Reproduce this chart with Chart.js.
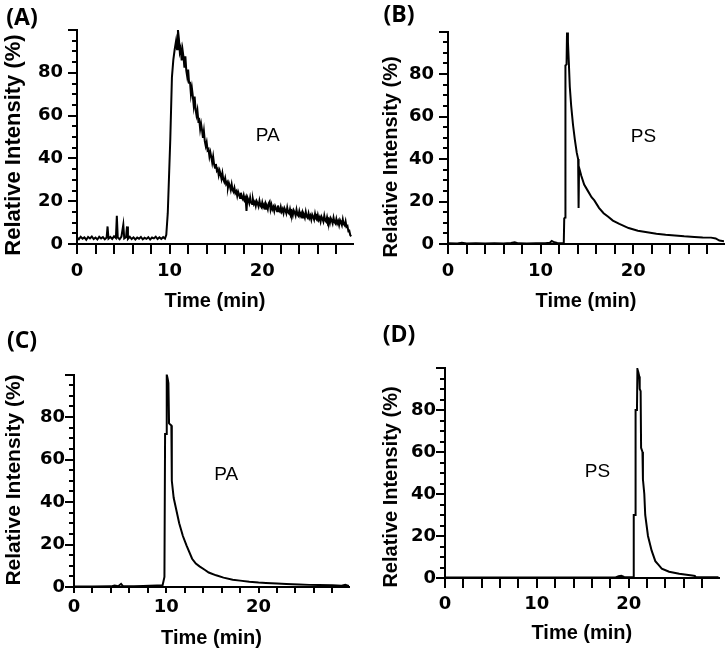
<!DOCTYPE html>
<html>
<head>
<meta charset="utf-8">
<script src="https://cdn.jsdelivr.net/npm/chart.js@4.4.1/dist/chart.umd.min.js"></script>
<style>
  body { margin: 0; background: #fff; }
  #wrap { position: relative; width: 725px; height: 651px; }
  #wrap canvas { position: absolute; }
</style>
</head>
<body>
<div id="wrap"></div>
<script>
// tick values / labels
const xTicks = [0, 2, 4, 6, 8, 10, 12, 14, 16, 18, 20, 22, 24, 26, 28];
const xLabels = [0, 10, 20];
const yMajor = [0, 20, 40, 60, 80, 100];
const yMinor = [5, 10, 15, 25, 30, 35, 45, 50, 55, 65, 70, 75, 85, 90, 95];
const yLabels = [0, 20, 40, 60, 80];
const panelLetters = ["(A)", "(B)", "(C)", "(D)"];
const compounds = ["PA", "PS", "PA", "PS"];

// traces: [time (min), relative intensity (%)]
const traceA = [
  [0,3],[0.2,2.2],[0.4,3.4],[0.6,2.5],[0.8,3.1],[1.0,2.0],[1.2,3.3],[1.4,2.6],[1.6,3.5],[1.8,2.3],
  [2.0,3.0],[2.2,2.1],[2.4,3.4],[2.6,2.6],[2.8,3.2],[3.0,2.2],[3.2,3.0],[3.3,8.2],[3.4,2.5],[3.6,3.3],
  [3.8,2.4],[4.0,3.6],[4.2,2.8],[4.3,13.2],[4.4,3.0],[4.6,2.2],[4.8,3.5],[5.0,9.0],[5.1,2.6],[5.3,3.2],
  [5.4,8.2],[5.5,2.4],[5.7,3.4],[5.9,2.3],[6.1,3.1],[6.3,2.1],[6.5,3.0],[6.7,2.5],[6.9,3.3],[7.1,2.2],
  [7.3,2.9],[7.5,2.4],[7.7,3.2],[7.9,2.1],[8.1,3.0],[8.3,2.6],[8.5,3.4],[8.7,2.3],[8.9,3.1],[9.1,2.4],
  [9.3,3.2],[9.5,2.5],[9.64,4.3],[9.8,14.4],[10.07,48.6],[10.25,78],[10.4,86],[10.55,91],[10.7,95],[10.8,91],
  [10.9,100],[11.0,96],[11.1,89.7],[11.2,91.5],[11.3,85.8],[11.4,90.6],[11.5,87.3],[11.6,82.4],[11.7,87.7],[11.8,81],
  [11.9,78.2],[12.0,81.5],[12.1,75.3],[12.2,75.8],[12.3,70],[12.4,73],[12.5,69.3],[12.6,64.8],[12.7,68.9],[12.8,62.9],
  [12.9,60.2],[13.0,62.5],[13.1,57.6],[13.2,58.1],[13.3,53.6],[13.4,56.1],[13.5,53.2],[13.6,49.6],[13.7,52.8],[13.8,48],
  [13.9,45.8],[14.0,47.6],[14.1,43.8],[14.2,44.3],[14.3,40.8],[14.4,42.9],[14.5,40.7],[14.6,38],[14.7,40.8],[14.8,37.2],
  [14.9,35.6],[15.0,37.4],[15.1,34.3],[15.2,35],[15.3,32.2],[15.4,34.3],[15.5,32.6],[15.6,30.5],[15.7,33.1],[15.8,30.1],
  [15.9,29],[16.0,30.8],[16.1,28.1],[16.2,28.9],[16.3,26.4],[16.4,28.5],[16.5,27.1],[16.6,25.3],[16.7,27.9],[16.8,25.3],
  [16.9,24.4],[17.0,26.2],[17.1,23.8],[17.2,24.6],[17.3,22.4],[17.4,24.4],[17.5,23.1],[17.6,21.5],[17.7,24],[17.8,21.7],
  [17.9,20.9],[18.0,22.8],[18.1,20.6],[18.2,21.6],[18.3,15.5],[18.4,21.7],[18.5,20.6],[18.6,19.1],[18.7,21.7],[18.8,19.4],
  [18.9,18.7],[19.0,20.8],[19.1,18.7],[19.2,19.7],[19.3,17.8],[19.4,20],[19.5,19],[19.6,17.6],[19.7,20.2],[19.8,18],
  [19.9,17.3],[20.0,19.4],[20.1,17.3],[20.2,18.4],[20.3,16.5],[20.4,18.8],[20.5,17.8],[20.6,16.3],[20.7,19],[20.8,19.8],
  [20.9,16.2],[21.0,18.3],[21.1,16.2],[21.2,17.3],[21.3,15.4],[21.4,17.7],[21.5,16.7],[21.6,15.3],[21.7,18],[21.8,15.8],
  [21.9,15.2],[22.0,17.3],[22.1,15.2],[22.2,16.3],[22.3,14.4],[22.4,16.7],[22.5,15.7],[22.6,14.3],[22.7,17],[22.8,14.8],
  [22.9,14.2],[23.0,16.3],[23.1,14.2],[23.2,15.3],[23.3,13.4],[23.4,15.7],[23.5,14.7],[23.6,13.3],[23.7,16],[23.8,13.8],
  [23.9,13.2],[24.0,15.3],[24.1,13.2],[24.2,14.3],[24.3,12.4],[24.4,14.7],[24.5,13.7],[24.6,12.3],[24.7,15],[24.8,12.8],
  [24.9,12.2],[25.0,14.3],[25.1,12.2],[25.2,13.3],[25.3,11.4],[25.4,13.7],[25.5,12.7],[25.6,11.4],[25.7,14.1],[25.8,11.9],
  [25.9,11.3],[26.0,13.4],[26.1,11.3],[26.2,12.4],[26.3,10.5],[26.4,12.8],[26.5,11.8],[26.6,10.5],[26.7,13.2],[26.8,11],
  [26.9,10.4],[27.0,12.5],[27.1,10.4],[27.2,11.5],[27.3,9.7],[27.4,12],[27.5,11],[27.6,9.6],[27.7,12.3],[27.8,10.2],
  [27.9,9.6],[28.0,11.7],[28.1,9.6],[28.2,10.7],[28.3,8.8],[28.4,11.1],[28.5,10.1],[28.6,8.8],[28.7,11.5],[28.8,9.3],
  [28.9,8.7],[29.0,10.6],[29.1,8],[29.2,8.4],[29.3,6],[29.4,6.2],[29.5,4.2],[29.6,3.6]
];
const traceB = [
  [0,0.3],[1,0.2],[1.5,0.6],[2,0.2],[3,0.3],[4,0.2],[5,0.3],[6,0.2],[6.8,0.5],[7.2,0.8],
  [7.6,0.3],[8.5,0.2],[9.5,0.3],[10.5,0.3],[11,0.6],[11.2,1.4],[11.5,0.8],[11.8,0.5],[12.2,0.4],[12.5,0.5],
  [12.55,12],[12.65,12.5],[12.68,84],[12.8,84.5],[12.85,99.5],[12.95,95],[13.05,85],[13.15,74],[13.3,65],[13.5,56],
  [13.7,49],[13.9,43],[14.05,40],[14.1,17],[14.15,36],[14.4,32],[14.7,28],[15.1,25],[15.5,22],[15.8,20.5],
  [16.3,17],[16.8,14.5],[17.3,12.8],[17.8,11],[18.5,9.5],[19.5,7.5],[20.5,6.2],[21.5,5.5],[22.5,4.8],[23.5,4.3],
  [24.5,4],[25.5,3.6],[26.6,3.3],[27.5,3.1],[28.4,3],[28.9,2.6],[29.3,1.6],[29.8,1.3]
];
const traceC = [
  [0,0.2],[2,0.2],[4,0.3],[4.4,0.7],[4.8,0.4],[5.1,1.5],[5.3,0.4],[6.5,0.3],[7.5,0.5],[8.2,0.6],
  [9,0.7],[9.6,0.8],[9.8,4.7],[9.87,72],[10.0,72],[10.05,100],[10.15,98],[10.23,96],[10.3,77],[10.55,76],
  [10.6,50],[10.8,42],[11.0,38],[11.4,30],[11.8,24],[12.2,19.5],[12.8,13.3],[13.2,11],[13.6,9.7],[14.2,8],
  [14.6,6.8],[15.4,5.5],[16.2,4.4],[17.2,3.4],[18,3],[19,2.5],[20,2.1],[20.8,1.9],[22,1.6],[23,1.4],
  [24.4,1.2],[25.5,1.0],[26.5,0.9],[28,0.8],[29,0.6],[29.4,1.0],[29.8,0.5]
];
const traceD = [
  [0,0.2],[5,0.2],[10,0.2],[15,0.2],[18.5,0.2],[18.9,0.8],[19.2,1.0],[19.5,0.5],[20,0.3],[20.5,0.3],
  [20.55,30],[20.7,30],[20.75,80],[20.9,80],[20.95,99.5],[21.05,98],[21.15,96],[21.2,90],[21.3,89],[21.35,62],
  [21.5,60],[21.55,47],[21.7,40],[21.8,30],[22.1,20],[22.5,13],[22.9,8],[23.3,6],[23.6,4.5],[24.4,3],
  [25.5,2],[26.9,1.2],[27.2,1.0],[27.3,0.4],[28,0.3],[29.8,0.3]
];
const traces = [traceA, traceB, traceC, traceD];

// layout of each panel (canvas box, plot area inside it, text spots)
const panels = [
  { box: [0, 0, 362, 320], area: { l: 77, r: 353, t: 30, b: 244 }, xTick: 10, xPad: 7, yPad: 5, xTitle: 301,
    yTitle: { size: 22, x: 14, y: 145 }, letter: [22, 18], labelAt: [20.6, 50.5], lw: 2 },
  { box: [362, 0, 363, 320], area: { l: 86, r: 362, t: 31.5, b: 244 }, xTick: 10, xPad: 7, yPad: 5, xTitle: 301,
    yTitle: { size: 20, x: 29, y: 157 }, letter: [37, 15], labelAt: [21.1, 50.3], lw: 2 },
  { box: [0, 320, 362, 331], area: { l: 74, r: 349, t: 54.5, b: 267 }, xTick: 6, xPad: 4, yPad: 0, xTitle: 318,
    yTitle: { size: 21, x: 14, y: 160 }, letter: [22, 21], labelAt: [16.5, 53], lw: 2 },
  { box: [362, 320, 363, 331], area: { l: 83, r: 356.7, t: 48, b: 258 }, xTick: 10, xPad: 6, yPad: 0, xTitle: 313,
    yTitle: { size: 20, x: 29, y: 167 }, letter: [37, 15], labelAt: [16.6, 50.5], lw: 2 },
];

Chart.defaults.font.family = "'Liberation Sans', Arial, sans-serif";
Chart.defaults.color = "#000";
const tickFont = { family: "'DejaVu Sans', sans-serif", size: 18, weight: "bold" };

// minor y ticks, y title, panel letter and compound label
const extras = {
  id: "extras",
  afterDraw(chart, args, opts) {
    const ctx = chart.ctx;
    const a = chart.chartArea;
    const ys = chart.scales.y;
    const xs = chart.scales.x;
    ctx.save();
    ctx.strokeStyle = "#000";
    ctx.lineWidth = 2;
    ctx.beginPath();
    yMinor.forEach((v) => {
      const y = Math.round(ys.getPixelForValue(v));
      ctx.moveTo(a.left - 5, y);
      ctx.lineTo(a.left, y);
    });
    ctx.stroke();

    ctx.fillStyle = "#000";
    ctx.textAlign = "center";
    ctx.textBaseline = "middle";
    // y title
    ctx.save();
    ctx.translate(opts.yTitle.x, opts.yTitle.y);
    ctx.rotate(-Math.PI / 2);
    ctx.font = "bold " + opts.yTitle.size + "px 'Liberation Sans', Arial, sans-serif";
    ctx.fillText("Relative Intensity (%)", 0, 0);
    ctx.restore();
    // panel letter
    ctx.font = "bold 23px 'Open Sans', sans-serif";
    ctx.fillText(opts.letter, opts.letterAt[0], opts.letterAt[1]);
    // compound label
    ctx.font = "19px 'Liberation Sans', Arial, sans-serif";
    ctx.fillText(opts.compound, xs.getPixelForValue(opts.labelAt[0]), ys.getPixelForValue(opts.labelAt[1]));
    ctx.restore();
  },
};

const wrap = document.getElementById("wrap");

panels.forEach((p, i) => {
  const [left, top, w, h] = p.box;
  const cv = document.createElement("canvas");
  cv.width = w;
  cv.height = h;
  cv.style.left = left + "px";
  cv.style.top = top + "px";
  cv.style.width = w + "px";
  cv.style.height = h + "px";
  wrap.appendChild(cv);

  const padBottom = h - p.xTitle - 12;
  const xHeight = h - padBottom - p.area.b;

  new Chart(cv, {
    type: "line",
    data: {
      datasets: [
        {
          data: traces[i].map((pt) => ({ x: pt[0], y: pt[1] })),
          borderColor: "#000",
          borderWidth: p.lw,
          pointRadius: 0,
          tension: 0,
          fill: false,
        },
      ],
    },
    options: {
      responsive: false,
      devicePixelRatio: 1,
      animation: false,
      events: [],
      layout: {
        padding: { left: 0, top: p.area.t, right: w - p.area.r, bottom: padBottom },
      },
      plugins: {
        legend: { display: false },
        tooltip: { enabled: false },
        extras: {
          yTitle: p.yTitle,
          letter: panelLetters[i],
          letterAt: p.letter,
          compound: compounds[i],
          labelAt: p.labelAt,
        },
      },
      scales: {
        x: {
          type: "linear",
          min: 0,
          max: 29.8,
          afterBuildTicks: (s) => {
            s.ticks = xTicks.map((v) => ({ value: v }));
          },
          afterFit: (s) => {
            s.height = xHeight;
          },
          grid: { drawOnChartArea: false, color: "#000", lineWidth: 2, tickLength: p.xTick },
          border: { display: true, color: "#000", width: 2 },
          ticks: {
            autoSkip: false,
            maxRotation: 0,
            padding: p.xPad,
            font: tickFont,
            callback: (v) => (xLabels.includes(v) ? String(v) : ""),
          },
          title: {
            display: true,
            text: "Time (min)",
            font: { size: 20, weight: "bold" },
            padding: 0,
          },
        },
        y: {
          type: "linear",
          min: 0,
          max: 100,
          afterBuildTicks: (s) => {
            s.ticks = yMajor.map((v) => ({ value: v }));
          },
          afterFit: (s) => {
            s.width = p.area.l;
          },
          grid: { drawOnChartArea: false, color: "#000", lineWidth: 2, tickLength: 9 },
          border: { display: true, color: "#000", width: 2 },
          ticks: {
            padding: p.yPad,
            font: tickFont,
            callback: (v) => (yLabels.includes(v) ? String(v) : ""),
          },
        },
      },
    },
    plugins: [extras],
  });
});
</script>
</body>
</html>
